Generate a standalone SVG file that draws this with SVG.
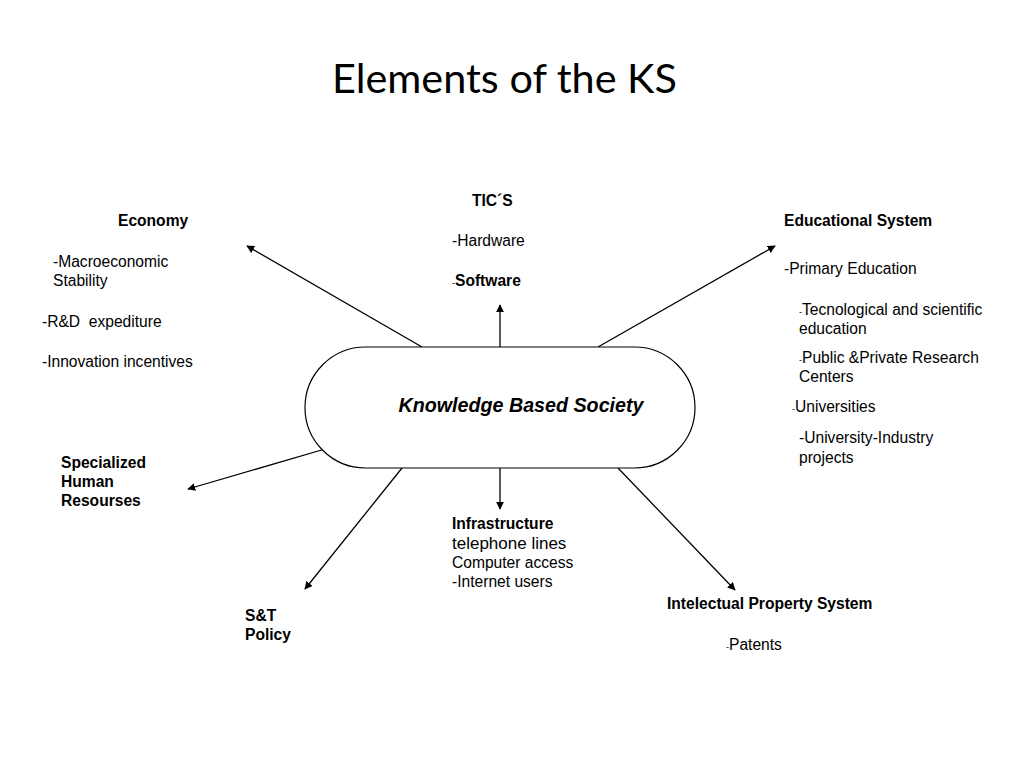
<svg xmlns="http://www.w3.org/2000/svg" width="1024" height="768" viewBox="0 0 1024 768">
<style>
text{font-family:"Liberation Sans",Arial,sans-serif;font-size:15.6px;fill:#000}
.b{font-weight:bold}
.d{font-size:9px}
.title{font-family:Lato,"Open Sans",sans-serif;font-size:41.4px}
.c{stroke:#000;stroke-width:1.3;fill:none;marker-end:url(#ah)}
</style>
<defs>
<marker id="ah" viewBox="0 0 10 10" refX="9" refY="5" markerWidth="8" markerHeight="8" markerUnits="userSpaceOnUse" orient="auto">
<path d="M0,0 L10,5 L0,10 z" fill="#000"/>
</marker>
</defs>
<rect width="1024" height="768" fill="#fff"/>
<text class="title" x="504.5" y="93" text-anchor="middle">Elements of the KS</text>
<g id="connectors">
<line class="c" x1="422" y1="347" x2="247" y2="246"/>
<line class="c" x1="500" y1="347" x2="500" y2="305"/>
<line class="c" x1="598" y1="347" x2="775" y2="246"/>
<line class="c" x1="325" y1="449" x2="188" y2="489"/>
<line class="c" x1="402" y1="468" x2="305" y2="589"/>
<line class="c" x1="500" y1="468" x2="500" y2="509"/>
<line class="c" x1="618" y1="468" x2="735" y2="590"/>
</g>
<g id="kbs">
<rect x="305" y="347" width="390" height="121" rx="60.5" ry="60.5" fill="#fff" stroke="#000" stroke-width="1.2"/>
<text x="521" y="412" text-anchor="middle" class="b" style="font-style:italic;font-size:19.7px">Knowledge Based Society</text>
</g>
<g id="economy">
<text class="b" x="118" y="226">Economy</text>
<text x="53" y="267">-Macroeconomic</text>
<text x="53" y="286">Stability</text>
<text x="42" y="327" xml:space="preserve">-R&amp;D  expediture</text>
<text x="42" y="367">-Innovation incentives</text>
</g>
<g id="tics">
<text class="b" x="472" y="206">TIC´S</text>
<text x="452" y="246">-Hardware</text>
<text x="452" y="286"><tspan class="d">-</tspan><tspan class="b">Software</tspan></text>
</g>
<g id="education">
<text class="b" x="784" y="226">Educational System</text>
<text x="784" y="274">-Primary Education</text>
<text x="799" y="315"><tspan class="d">-</tspan>Tecnological and scientific</text>
<text x="799" y="334">education</text>
<text x="799" y="363"><tspan class="d">-</tspan>Public &amp;Private Research</text>
<text x="799" y="382">Centers</text>
<text x="792" y="412"><tspan class="d">-</tspan>Universities</text>
<text x="799" y="443">-University-Industry</text>
<text x="799" y="463">projects</text>
</g>
<g id="human">
<text class="b" x="61" y="468">Specialized</text>
<text class="b" x="61" y="487">Human</text>
<text class="b" x="61" y="506">Resourses</text>
</g>
<g id="infrastructure">
<text class="b" x="452" y="529">Infrastructure</text>
<text x="452" y="549" style="font-size:17px">telephone lines</text>
<text x="452" y="568">Computer access</text>
<text x="452" y="587">-Internet users</text>
</g>
<g id="stpolicy">
<text class="b" x="245" y="621">S&amp;T</text>
<text class="b" x="245" y="640">Policy</text>
</g>
<g id="ips">
<text class="b" x="667" y="609">Intelectual Property System</text>
<text x="726" y="650"><tspan class="d">-</tspan>Patents</text>
</g>
</svg>
